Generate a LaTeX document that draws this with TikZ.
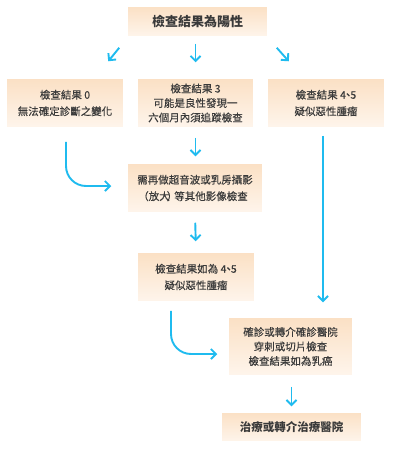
\documentclass[tikz,border=0pt]{standalone}
\usepackage{fontspec}
\setmainfont{Noto Sans CJK TC}
\newfontfamily\boxfont{Noto Sans CJK TC}[FakeBold=0.35]
\usepackage{tikz}
\usetikzlibrary{calc,arrows.meta,shadows}
\usepackage{xcolor}
\definecolor{flowblue}{HTML}{1FBBEF}
\definecolor{boxtop}{HTML}{FBE0C4}
\definecolor{boxbot}{HTML}{FEF5EC}
\definecolor{boxtext}{HTML}{3A3A3A}
\newcommand{\dun}{\kern-3pt、\kern-3pt}

\begin{document}
\begin{tikzpicture}[x=1pt,y=-1pt,
    box/.style={draw=white, line width=1.5pt, top color=boxtop, bottom color=boxbot,
      drop shadow={shadow xshift=0pt, shadow yshift=-0.8pt, opacity=0.18},
      text=boxtext, align=center, inner sep=0pt,
      font=\boxfont\fontsize{10.5}{14.5}\selectfont},
    headbox/.style={box, font=\bfseries\fontsize{13}{15}\selectfont},
    flow/.style={flowblue, line width=1.9pt, -{Straight Barb[length=5pt,width=10pt]}}]
      \useasboundingbox (0,0) rectangle (401,450);
      \fill[white] (0,0) rectangle (401,450);

      \def\bw{117pt}
      \def\bh{50pt}

      % Cases
      \node[headbox, minimum width=141pt, minimum height=31pt] (top) at (197.5,21.5) {檢查結果為陽性};
      \node[box, minimum width=\bw, minimum height=\bh] (res0) at (65,103) {檢查結果 0\\[2pt]無法確定診斷之變化};
      \node[box, minimum width=\bw, minimum height=\bh] (res3) at (195.5,103) {檢查結果 3\\可能是良性發現一\\六個月內須追蹤檢查};
      \node[box, minimum width=\bw, minimum height=\bh] (res45) at (326,103) {檢查結果 4\dun 5\\[2pt]疑似惡性腫瘤};
      \node[box, minimum width=136pt, minimum height=\bh] (imaging) at (195,188) {需再做超音波或乳房攝影\\[2pt]\kern-4pt（放大\kern-3pt）\kern-3pt 等其他影像檢查};
      \node[box, minimum width=\bw, minimum height=\bh] (again) at (196,277) {檢查結果如為 4\dun 5\\[2pt]疑似惡性腫瘤};
      \node[box, minimum width=125pt, minimum height=59pt] (confirm) at (290.5,346.5) {確診或轉介確診醫院\\穿刺或切片檢查\\檢查結果如為乳癌};
      \node[headbox, minimum width=141pt, minimum height=30pt, font=\bfseries\fontsize{11.5}{14}\selectfont] (treat) at (291.5,427) {治療或轉介治療醫院};

      % Flèches
      \draw[flow] ($(top.south west)+(-7,10)$) -- ($(res0.north east)+(-16,-16)$);
      \draw[flow, shorten <=6pt, shorten >=15pt] (top.south -| res3) -- (res3.north);
      \draw[flow] ($(top.south east)+(8,10)$) -- ($(res45.north west)+(22,-16)$);
      \draw[flow, shorten <=9pt, shorten >=6pt] (res3.south) -- (res3.south |- imaging.north);
      \draw[flow, shorten <=9pt, shorten >=10pt] (imaging.south) -- (again.north);
      \draw[flow, shorten <=10pt, shorten >=5pt] ([xshift=1pt]confirm.south) -- ([xshift=1pt]confirm.south |- treat.north);
      \draw[flow, shorten <=7pt, shorten >=14pt] ([xshift=-3pt]res45.south) -- ([xshift=-3pt]res45.south |- confirm.north);

      % Retours courbes
      \draw[flow, rounded corners=20pt, shorten <=13pt, shorten >=15pt]
        ([xshift=1pt]res0.south) |- ([yshift=2pt]imaging.west);
      \draw[flow, rounded corners=20pt, shorten <=8pt, shorten >=10pt]
        ([xshift=-25pt]again.south) |- ([yshift=-7.5pt]confirm.west);
    \end{tikzpicture}
\end{document}
